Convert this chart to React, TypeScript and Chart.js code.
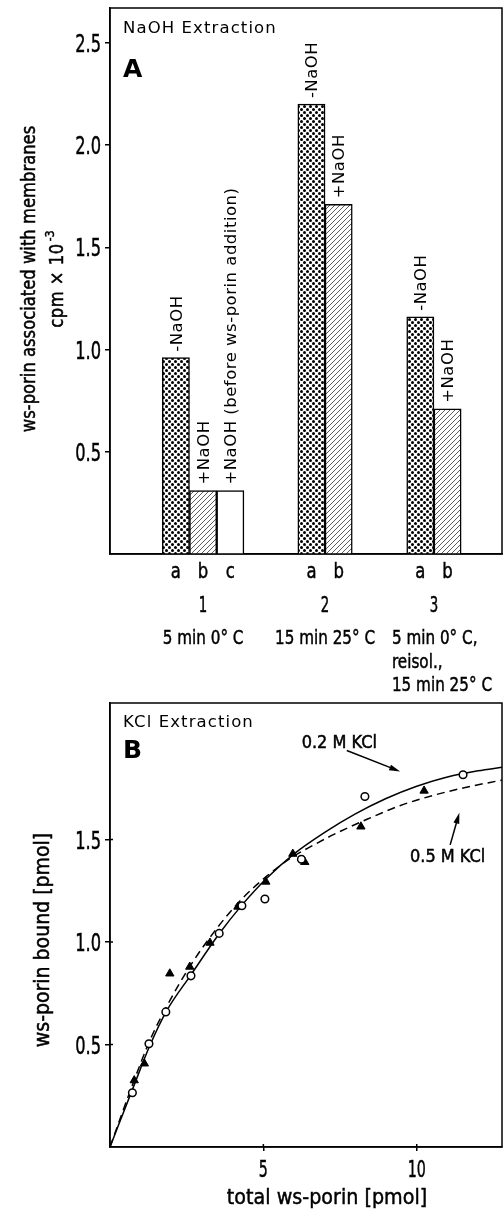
import React, { useEffect, useRef } from 'react';
import { Chart, registerables } from 'chart.js';

Chart.register(...registerables);

const FONT = "'DejaVu Sans', sans-serif";
const BOLD_FONT = "'DejaVu Sans', sans-serif";

// ---------- Panel A: NaOH extraction ----------
const barLetters = ['a', 'b', 'c', 'a', 'b', 'a', 'b'];
const barX = [2.42, 3.42, 4.42, 7.4, 8.4, 11.4, 12.4];
const barValues = [0.96, 0.31, 0.31, 2.2, 1.71, 1.16, 0.71];
const barLabels = ['-NaOH', '+NaOH', '+NaOH (before ws-porin addition)', '-NaOH', '+NaOH', '-NaOH', '+NaOH'];
const barGroup = [0, 0, 0, 1, 1, 2, 2];
const groupNames = ['1', '2', '3'];
const groupConditions = [['5 min 0° C'], ['15 min 25° C'], ['5 min 0° C,', 'reisol.,', '15 min 25° C']];
const yTicksA = [0.5, 1.0, 1.5, 2.0, 2.5];
const xMaxA = 14.4;
const yMaxA = 2.67;

// ---------- Panel B: KCl extraction ----------
const kcl02X = [0.73, 1.27, 1.82, 2.64, 3.56, 4.3, 5.05, 6.24, 8.31, 11.51];
const kcl02Y = [0.265, 0.504, 0.659, 0.835, 1.042, 1.177, 1.21, 1.404, 1.71, 1.816];
const kcl05X = [0.79, 1.12, 1.95, 2.6, 3.26, 4.17, 5.08, 5.96, 6.35, 8.18, 10.24];
const kcl05Y = [0.325, 0.407, 0.846, 0.879, 0.996, 1.172, 1.294, 1.43, 1.39, 1.563, 1.738];
const fit02X = [0, 0.73, 1.3, 1.85, 2.64, 3.56, 4.3, 5.1, 6.0, 7.0, 8.0, 9.0, 10.0, 11.0, 12.0, 12.78];
const fit02Y = [0, 0.28, 0.495, 0.665, 0.84, 1.04, 1.18, 1.31, 1.43, 1.535, 1.625, 1.7, 1.76, 1.805, 1.835, 1.852];
const fit05X = [0, 0.7, 1.3, 1.9, 2.6, 3.5, 4.3, 5.1, 5.9, 6.6, 7.3, 8.4, 9.45, 10.53, 11.62, 12.78];
const fit05Y = [0, 0.29, 0.52, 0.7, 0.88, 1.07, 1.21, 1.32, 1.41, 1.47, 1.525, 1.6, 1.665, 1.715, 1.755, 1.79];
const xTicksB = [5, 10];
const yTicksB = [0.5, 1.0, 1.5];
const xMaxB = 12.78;
const yMaxB = 2.166;

type TextOpts = {
  size: number;
  family?: string;
  weight?: string;
  align?: CanvasTextAlign;
  baseline?: CanvasTextBaseline;
  spacing?: number;
  rotate?: number;
  sx?: number;
};

function drawText(ctx: CanvasRenderingContext2D, text: string, x: number, y: number, o: TextOpts) {
  ctx.save();
  ctx.translate(x, y);
  if (o.rotate) ctx.rotate(o.rotate);
  const sx = o.sx || 1;
  if (sx !== 1) ctx.scale(sx, 1);
  ctx.font = `${o.weight || 'normal'} ${o.size}px ${o.family || FONT}`;
  (ctx as any).letterSpacing = `${o.spacing || 0}px`;
  ctx.textAlign = o.align || 'left';
  ctx.textBaseline = o.baseline || 'alphabetic';
  ctx.fillStyle = '#000';
  ctx.fillText(text, 0, 0);
  if (sx < 1) {
    ctx.strokeStyle = '#000';
    ctx.lineWidth = 0.5;
    ctx.strokeText(text, 0, 0);
  }
  ctx.restore();
}

function measure(ctx: CanvasRenderingContext2D, text: string, size: number, spacing: number, sx: number) {
  ctx.save();
  ctx.font = `normal ${size}px ${FONT}`;
  (ctx as any).letterSpacing = `${spacing}px`;
  const w = ctx.measureText(text).width * sx;
  ctx.restore();
  return w;
}

function drawArrow(ctx: CanvasRenderingContext2D, x1: number, y1: number, x2: number, y2: number) {
  const ang = Math.atan2(y2 - y1, x2 - x1);
  const L = 11;
  const W = 3;
  const c = Math.cos(ang);
  const s = Math.sin(ang);
  ctx.save();
  ctx.strokeStyle = '#000';
  ctx.fillStyle = '#000';
  ctx.lineWidth = 1.5;
  ctx.beginPath();
  ctx.moveTo(x1, y1);
  ctx.lineTo(x2 - L * 0.7 * c, y2 - L * 0.7 * s);
  ctx.stroke();
  ctx.beginPath();
  ctx.moveTo(x2, y2);
  ctx.lineTo(x2 - L * c + W * s, y2 - L * s - W * c);
  ctx.lineTo(x2 - L * c - W * s, y2 - L * s + W * c);
  ctx.closePath();
  ctx.fill();
  ctx.restore();
}

function makeDots(): CanvasPattern {
  const c = document.createElement('canvas');
  c.width = 6;
  c.height = 6;
  const g = c.getContext('2d')!;
  g.fillStyle = '#fff';
  g.fillRect(0, 0, 6, 6);
  g.fillStyle = '#000';
  const centres = [[1.5, 1.5], [4.5, 4.5]];
  centres.forEach(([cx, cy]) => {
    g.beginPath();
    g.arc(cx, cy, 1.5, 0, Math.PI * 2);
    g.fill();
  });
  return g.createPattern(c, 'repeat')!;
}

function makeHatch(): CanvasPattern {
  const c = document.createElement('canvas');
  c.width = 5;
  c.height = 5;
  const g = c.getContext('2d')!;
  g.fillStyle = '#fff';
  g.fillRect(0, 0, 5, 5);
  g.strokeStyle = '#333';
  g.lineWidth = 0.8;
  g.beginPath();
  g.moveTo(-1, 6);
  g.lineTo(6, -1);
  g.moveTo(-1, 1);
  g.lineTo(1, -1);
  g.moveTo(4, 6);
  g.lineTo(6, 4);
  g.stroke();
  return g.createPattern(c, 'repeat')!;
}

function drawBox(ctx: CanvasRenderingContext2D, ca: any) {
  ctx.save();
  ctx.strokeStyle = '#000';
  ctx.lineWidth = 1.5;
  ctx.strokeRect(ca.left, ca.top, ca.right - ca.left, ca.bottom - ca.top);
  ctx.restore();
}

const NUM = { size: 25, sx: 0.65 };

const panelAPlugin = {
  id: 'panelA',
  afterDraw(chart: any) {
    const { ctx, chartArea: ca, scales } = chart;
    const xs = scales.x;
    const ys = scales.y;
    drawBox(ctx, ca);

    yTicksA.forEach((v) => {
      drawText(ctx, v.toFixed(1), ca.left - 9, ys.getPixelForValue(v) + 9, { ...NUM, align: 'right' });
    });
    barLetters.forEach((l, i) => {
      drawText(ctx, l, xs.getPixelForValue(barX[i]), ca.bottom + 24, { size: 22, sx: 0.75, align: 'center' });
    });

    barLabels.forEach((lab, i) => {
      const px = xs.getPixelForValue(barX[i]);
      const py = ys.getPixelForValue(barValues[i]);
      drawText(ctx, lab, px + 1.5, py - 6, { size: 16.5, spacing: 0.5, rotate: -Math.PI / 2, baseline: 'middle' });
    });

    groupNames.forEach((g, gi) => {
      const idx = barGroup.map((v, i) => (v === gi ? i : -1)).filter((i) => i >= 0);
      const cx = idx.reduce((s, i) => s + xs.getPixelForValue(barX[i]), 0) / idx.length;
      drawText(ctx, g, cx, ca.bottom + 58, { size: 20.5, sx: 0.65, align: 'center' });
      const cond = groupConditions[gi];
      if (cond.length === 1) {
        drawText(ctx, cond[0], cx, ca.bottom + 90, { size: 19, sx: 0.8, align: 'center' });
      } else {
        cond.forEach((line, li) =>
          drawText(ctx, line, cx - 42, ca.bottom + 90 + li * 23.5, { size: 19, sx: 0.8 })
        );
      }
    });

    drawText(ctx, 'NaOH Extraction', ca.left + 13, ca.top + 25, { size: 16.5, spacing: 1.1 });
    drawText(ctx, 'A', ca.left + 13, ca.top + 69, { size: 25, weight: 'bold', family: BOLD_FONT });

    const midY = (ca.top + ca.bottom) / 2 - 2;
    drawText(ctx, 'ws-porin associated with membranes', 35, midY, {
      size: 20,
      sx: 0.82,
      align: 'center',
      rotate: -Math.PI / 2,
    });
    const main = 'cpm × 10';
    const sup = '-3';
    const w1 = measure(ctx, main, 20, 0.6, 0.82);
    const w2 = measure(ctx, sup, 13, 0.3, 0.82);
    const total = w1 + 2 + w2;
    ctx.save();
    ctx.translate(63, midY);
    ctx.rotate(-Math.PI / 2);
    drawText(ctx, main, -total / 2, 0, { size: 20, spacing: 0.6, sx: 0.82 });
    drawText(ctx, sup, -total / 2 + w1 + 2, -9, { size: 13, spacing: 0.3, sx: 0.82 });
    ctx.restore();
  },
};

const panelBPlugin = {
  id: 'panelB',
  afterDraw(chart: any) {
    const { ctx, chartArea: ca, scales } = chart;
    const xs = scales.x;
    const ys = scales.y;
    drawBox(ctx, ca);

    ctx.save();
    ctx.strokeStyle = '#000';
    ctx.lineWidth = 1.5;
    ctx.beginPath();
    yTicksB.forEach((v) => {
      const py = ys.getPixelForValue(v);
      ctx.moveTo(ca.left, py);
      ctx.lineTo(ca.left + 3, py);
    });
    xTicksB.forEach((v) => {
      const px = xs.getPixelForValue(v);
      ctx.moveTo(px, ca.bottom);
      ctx.lineTo(px, ca.bottom - 3);
    });
    ctx.stroke();
    ctx.restore();

    yTicksB.forEach((v) => {
      drawText(ctx, v.toFixed(1), ca.left - 9, ys.getPixelForValue(v) + 9, { ...NUM, align: 'right' });
    });
    xTicksB.forEach((v) => {
      drawText(ctx, String(v), xs.getPixelForValue(v), ca.bottom + 30, { size: 23, sx: 0.62, align: 'center' });
    });

    drawText(ctx, 'KCl Extraction', ca.left + 13, ca.top + 23.5, { size: 16.5, spacing: 1.1 });
    drawText(ctx, 'B', ca.left + 13, ca.top + 55, { size: 25, weight: 'bold', family: BOLD_FONT });

    drawText(ctx, '0.2 M KCl', xs.getPixelForValue(6.25), ys.getPixelForValue(1.948), { size: 17, sx: 0.95 });
    drawArrow(ctx, xs.getPixelForValue(7.72), ys.getPixelForValue(1.934), xs.getPixelForValue(9.46), ys.getPixelForValue(1.832));
    drawText(ctx, '0.5 M KCl', xs.getPixelForValue(9.78), ys.getPixelForValue(1.39), { size: 17, sx: 0.95 });
    drawArrow(ctx, xs.getPixelForValue(11.09), ys.getPixelForValue(1.474), xs.getPixelForValue(11.39), ys.getPixelForValue(1.631));

    drawText(ctx, 'ws-porin bound [pmol]', 49, (ca.top + ca.bottom) / 2 + 15, {
      size: 22,
      sx: 0.86,
      align: 'center',
      rotate: -Math.PI / 2,
    });
    drawText(ctx, 'total ws-porin [pmol]', (ca.left + ca.right) / 2 + 21, ca.bottom + 57, {
      size: 22,
      sx: 0.87,
      align: 'center',
    });
  },
};

export default function App() {
  const refA = useRef<HTMLCanvasElement>(null);
  const refB = useRef<HTMLCanvasElement>(null);

  useEffect(() => {
    Chart.defaults.font.family = FONT;
    Chart.defaults.color = '#000';

    const dots = makeDots();
    const hatch = makeHatch();
    const fills = barLabels.map((l) => (l.startsWith('-') ? dots : l.includes('(') ? '#ffffff' : hatch));

    const chartA = new Chart(refA.current!, {
      type: 'bar',
      data: {
        datasets: [
          {
            data: barX.map((x, i) => ({ x, y: barValues[i] })),
            backgroundColor: fills as any,
            borderColor: '#000',
            borderWidth: 1.5,
            barPercentage: 1,
            categoryPercentage: 1,
          },
        ],
      },
      options: {
        responsive: false,
        animation: false,
        layout: { autoPadding: false, padding: { top: 8, right: 1, left: 0, bottom: 0 } },
        plugins: { legend: { display: false }, tooltip: { enabled: false } },
        scales: {
          x: {
            type: 'linear',
            min: 0,
            max: xMaxA,
            offset: false,
            grid: { display: false, drawTicks: false, offset: false },
            border: { display: true, color: '#000', width: 1.5 },
            afterBuildTicks: (s: any) => {
              s.ticks = barX.map((v) => ({ value: v }));
            },
            afterFit: (s: any) => {
              s.height = 146;
            },
            ticks: { display: false, autoSkip: false, maxRotation: 0 },
          },
          y: {
            type: 'linear',
            min: 0,
            max: yMaxA,
            afterBuildTicks: (s: any) => {
              s.ticks = yTicksA.map((v) => ({ value: v }));
            },
            afterFit: (s: any) => {
              s.width = 110;
            },
            grid: { drawOnChartArea: false, drawTicks: true, tickLength: 5, color: '#000', lineWidth: 1.5 },
            border: { display: true, color: '#000', width: 1.5 },
            ticks: { display: false },
          },
        },
      } as any,
      plugins: [panelAPlugin],
    });

    const chartB = new Chart(refB.current!, {
      type: 'scatter',
      data: {
        datasets: [
          {
            label: '0.2 M KCl',
            data: kcl02X.map((x, i) => ({ x, y: kcl02Y[i] })),
            pointStyle: 'circle',
            pointRadius: 3.8,
            pointBackgroundColor: '#fff',
            pointBorderColor: '#000',
            pointBorderWidth: 1.5,
            showLine: false,
          },
          {
            label: '0.5 M KCl',
            data: kcl05X.map((x, i) => ({ x, y: kcl05Y[i] })),
            pointStyle: 'triangle',
            pointRadius: 4.8,
            pointBackgroundColor: '#000',
            pointBorderColor: '#000',
            pointBorderWidth: 1,
            showLine: false,
          },
          {
            label: '0.2 M KCl fit',
            data: fit02X.map((x, i) => ({ x, y: fit02Y[i] })),
            showLine: true,
            borderColor: '#000',
            borderWidth: 1.5,
            pointRadius: 0,
            cubicInterpolationMode: 'monotone',
            fill: false,
          },
          {
            label: '0.5 M KCl fit',
            data: fit05X.map((x, i) => ({ x, y: fit05Y[i] })),
            showLine: true,
            borderColor: '#000',
            borderWidth: 1.5,
            borderDash: [8, 5],
            pointRadius: 0,
            cubicInterpolationMode: 'monotone',
            fill: false,
          },
        ],
      },
      options: {
        responsive: false,
        animation: false,
        layout: { autoPadding: false, padding: { top: 3, right: 1, left: 0, bottom: 0 } },
        plugins: { legend: { display: false }, tooltip: { enabled: false } },
        scales: {
          x: {
            type: 'linear',
            min: 0,
            max: xMaxB,
            afterBuildTicks: (s: any) => {
              s.ticks = xTicksB.map((v) => ({ value: v }));
            },
            afterFit: (s: any) => {
              s.height = 65;
            },
            grid: { drawOnChartArea: false, drawTicks: true, tickLength: 4, color: '#000', lineWidth: 1.5 },
            border: { display: true, color: '#000', width: 1.5 },
            ticks: { display: false, autoSkip: false, maxRotation: 0 },
          },
          y: {
            type: 'linear',
            min: 0,
            max: yMaxB,
            afterBuildTicks: (s: any) => {
              s.ticks = yTicksB.map((v) => ({ value: v }));
            },
            afterFit: (s: any) => {
              s.width = 110;
            },
            grid: { drawOnChartArea: false, drawTicks: true, tickLength: 5, color: '#000', lineWidth: 1.5 },
            border: { display: true, color: '#000', width: 1.5 },
            ticks: { display: false },
          },
        },
      } as any,
      plugins: [panelBPlugin],
    });

    return () => {
      chartA.destroy();
      chartB.destroy();
    };
  }, []);

  return (
    <div style={{ position: 'absolute', left: 0, top: 0, width: 503, height: 1212, background: '#fff' }}>
      <canvas ref={refA} width={503} height={700} style={{ display: 'block', width: 503, height: 700 }} />
      <canvas ref={refB} width={503} height={512} style={{ display: 'block', width: 503, height: 512 }} />
    </div>
  );
}
